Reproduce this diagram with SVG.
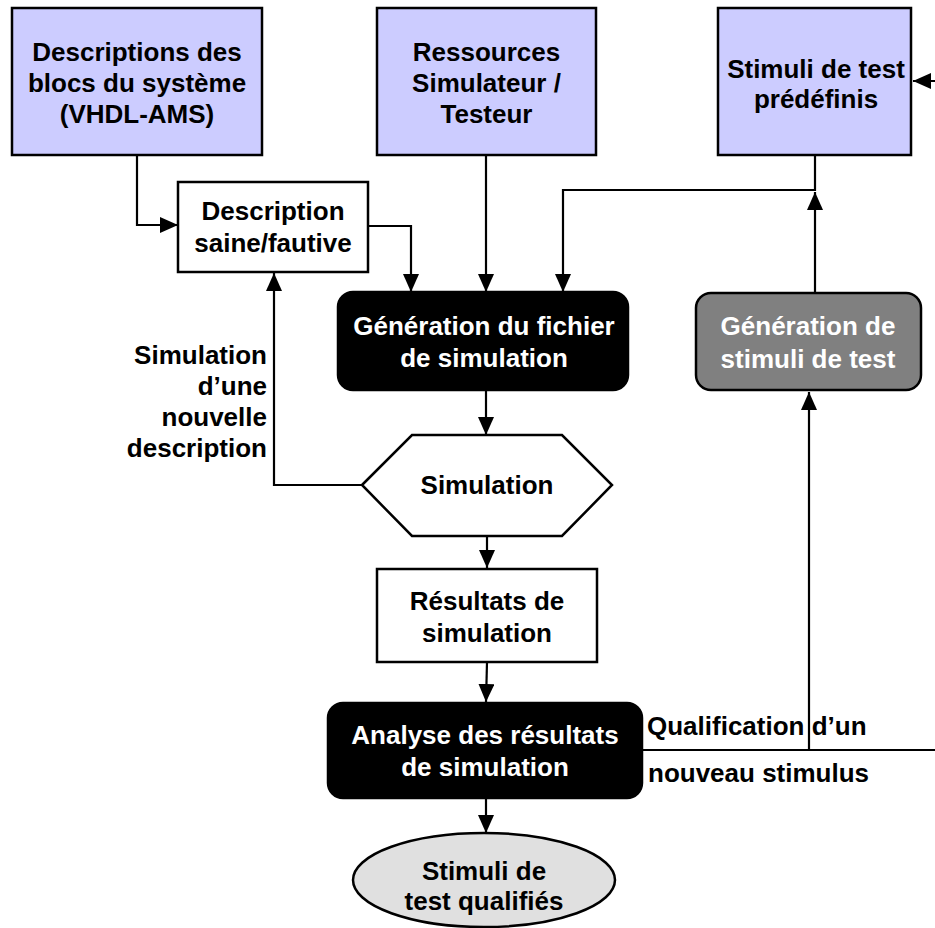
<svg xmlns="http://www.w3.org/2000/svg" width="935" height="928" viewBox="0 0 935 928">
<defs>
<style>
text{font-family:"Liberation Sans",Arial,sans-serif;font-weight:bold;font-size:26px;fill:#000}
.c{text-anchor:middle}
.e{text-anchor:end}
.w{fill:#fff}
.in{fill:#ccccff;stroke:#000;stroke-width:2.5}
.box{fill:#fff;stroke:#000;stroke-width:2.5}
.blk{fill:#000;stroke:#000;stroke-width:2.5}
.gry{fill:#808080;stroke:#000;stroke-width:2.5}
.out{fill:#e0e0e0;stroke:#000;stroke-width:2.5}
.ln{fill:none;stroke:#000;stroke-width:2.2}
.ar{marker-end:url(#ah)}
</style>
<marker id="ah" markerUnits="userSpaceOnUse" markerWidth="18" markerHeight="16" refX="18" refY="8" orient="auto" viewBox="0 0 18 16">
<path d="M0,0 L18,8 L0,16 z" fill="#000"/>
</marker>
</defs>

<g id="connectors">
<path class="ln ar" d="M137,155 V225 H178"/>
<path class="ln ar" d="M368,226 H411 V292"/>
<path class="ln ar" d="M486,155 V292"/>
<path class="ln ar" d="M815,155 V190 H563 V292"/>
<path class="ln ar" d="M815,293 V192"/>
<path class="ln ar" d="M486,390 V435"/>
<path class="ln ar" d="M362,485 H274 V273"/>
<path class="ln ar" d="M487,536 V568"/>
<path class="ln ar" d="M487,662 L486,702"/>
<path class="ln ar" d="M486,798 V833"/>
<path class="ln" d="M642,750 H945"/>
<path class="ln ar" d="M809,750 V392"/>
<path class="ln ar" d="M945,750 V81 H913"/>
</g>

<g id="n-descriptions">
<rect class="in" x="12" y="8" width="250" height="147"/>
<text class="c" x="137" y="61">Descriptions des</text>
<text class="c" x="137" y="92">blocs du système</text>
<text class="c" x="137" y="123">(VHDL-AMS)</text>
</g>

<g id="n-ressources">
<rect class="in" x="377" y="8" width="219" height="147"/>
<text class="c" x="486.5" y="61">Ressources</text>
<text class="c" x="486.5" y="92">Simulateur /</text>
<text class="c" x="486.5" y="123">Testeur</text>
</g>

<g id="n-stimuli-predefinis">
<rect class="in" x="718" y="8" width="193" height="147"/>
<text class="c" x="816" y="78">Stimuli de test</text>
<text class="c" x="816" y="108">prédéfinis</text>
</g>

<g id="n-description">
<rect class="box" x="178" y="182" width="190" height="90"/>
<text class="c" x="273" y="220">Description</text>
<text class="c" x="273" y="252">saine/fautive</text>
</g>

<g id="n-generation-fichier">
<rect class="blk" x="338" y="292" width="290" height="98" rx="15"/>
<text class="c w" x="484" y="335">Génération du fichier</text>
<text class="c w" x="484" y="367">de simulation</text>
</g>

<g id="n-generation-stimuli">
<rect class="gry" x="696" y="293" width="225" height="97" rx="15"/>
<text class="c w" x="808" y="335">Génération de</text>
<text class="c w" x="808" y="368">stimuli de test</text>
</g>

<g id="n-simulation">
<polygon class="box" points="362,485 412,435 562,435 612,485 562,536 412,536"/>
<text class="c" x="487" y="494">Simulation</text>
</g>

<g id="n-resultats">
<rect class="box" x="377" y="569" width="220" height="93"/>
<text class="c" x="487" y="610">Résultats de</text>
<text class="c" x="487" y="642">simulation</text>
</g>

<g id="n-analyse">
<rect class="blk" x="328" y="703" width="314" height="95" rx="15"/>
<text class="c w" x="485" y="744">Analyse des résultats</text>
<text class="c w" x="485" y="776">de simulation</text>
</g>

<g id="n-stimuli-qualifies">
<ellipse class="out" cx="484" cy="880" rx="131" ry="47"/>
<text class="c" x="484" y="880">Stimuli de</text>
<text class="c" x="484" y="910">test qualifiés</text>
</g>

<g id="labels">
<text class="e" x="267" y="364">Simulation</text>
<text class="e" x="267" y="395">d’une</text>
<text class="e" x="267" y="426">nouvelle</text>
<text class="e" x="267" y="457">description</text>
<text x="647" y="735">Qualification d’un</text>
<text x="648" y="782">nouveau stimulus</text>
</g>
</svg>
